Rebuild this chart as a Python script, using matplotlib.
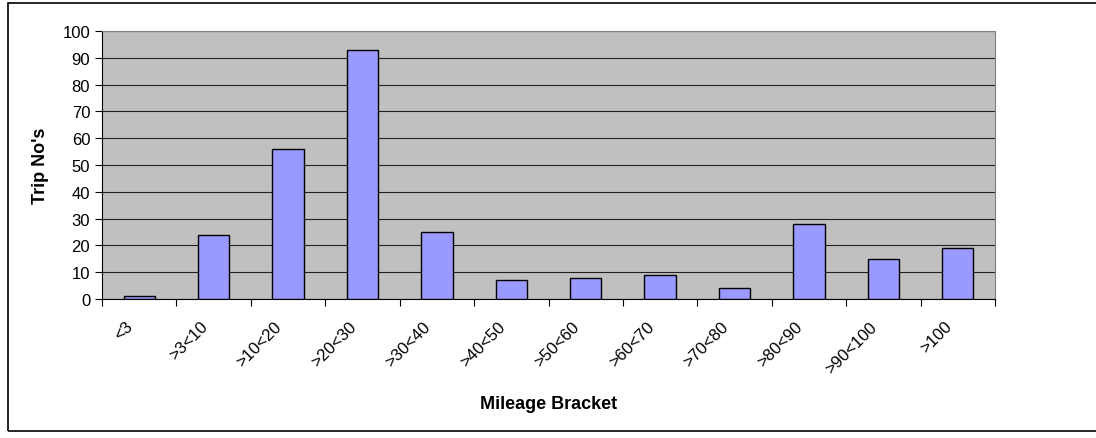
import numpy as np
import matplotlib.pyplot as plt
from matplotlib.patches import Rectangle
from matplotlib.transforms import ScaledTranslation

plt.rcParams['font.family'] = ['Liberation Sans', 'DejaVu Sans']

brackets = ['<3', '>3<10', '>10<20', '>20<30', '>30<40', '>40<50', '>50<60',
            '>60<70', '>70<80', '>80<90', '>90<100', '>100']
trips = [1, 24, 56, 93, 25, 7, 8, 9, 4, 28, 15, 19]

fig = plt.figure(figsize=(10.96, 4.39), dpi=100)
ax = fig.add_axes([102 / 1096, 1 - 300 / 439, 893 / 1096, 268 / 439])

# outer chart border (runs off the right edge like the original)
fig.patches.append(Rectangle((8 / 1096, 1 - 432 / 439), 1.1, 428 / 439,
                             transform=fig.transFigure, fill=False,
                             edgecolor='black', linewidth=1.2))

x = np.arange(len(brackets))
ax.set_facecolor('#C0C0C0')
ax.bar(x, trips, width=0.42, color='#9999FF', edgecolor='black', linewidth=1, zorder=3)

ax.set_xlim(-0.5, len(brackets) - 0.5)
ax.set_ylim(0, 100)
ax.set_yticks(np.arange(0, 101, 10))
ax.yaxis.grid(True, color='#202020', linewidth=0.8, zorder=0)
ax.set_axisbelow(True)

ax.set_xticks(np.arange(-0.5, len(brackets), 1))
ax.set_xticklabels([])
ax.set_xticks(x, minor=True)
ax.set_xticklabels(brackets, minor=True, rotation=45, ha='right',
                   rotation_mode='anchor', fontsize=12)
ax.tick_params(axis='x', which='minor', length=0, pad=14)
ax.tick_params(axis='x', which='major', length=5, direction='out')
ax.tick_params(axis='y', length=5, direction='out', labelsize=12)

shift = ScaledTranslation(-14 / 100, 0, fig.dpi_scale_trans)
for lab in ax.get_xticklabels(minor=True):
    lab.set_transform(lab.get_transform() + shift)

for side in ['top', 'right']:
    ax.spines[side].set_color('#808080')
for side in ['left', 'bottom']:
    ax.spines[side].set_color('black')

ax.set_xlabel('Mileage Bracket', fontsize=13, fontweight='bold', labelpad=14)
ax.set_ylabel("Trip No's", fontsize=13, fontweight='bold', labelpad=10)

fig.savefig('out.png', dpi=100)
